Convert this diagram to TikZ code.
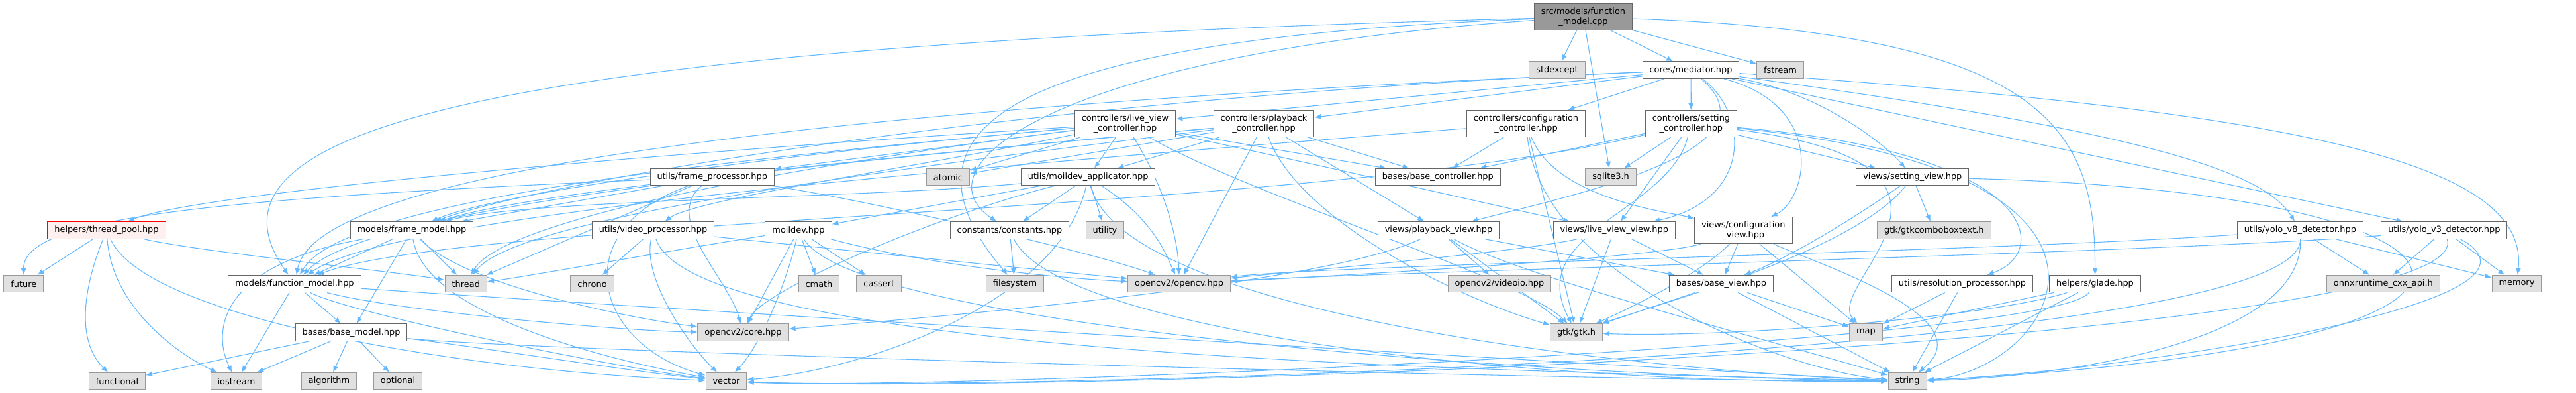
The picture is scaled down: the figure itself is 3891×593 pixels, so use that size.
\documentclass[tikz,border=0pt]{standalone}
\usepackage{fontspec}
\newfontfamily\dvs{DejaVu Sans}
\usetikzlibrary{arrows.meta}
\definecolor{edgeblue}{HTML}{63B8FF}
\definecolor{boxgray}{HTML}{666666}
\definecolor{sysgray}{HTML}{999999}
\definecolor{sysfill}{HTML}{E0E0E0}
\definecolor{badfill}{HTML}{FFF0F0}
\pgfdeclarelayer{edges}
\pgfsetlayers{edges,main}
\begin{document}
\begin{tikzpicture}[x=1pt,y=-1pt,
  hdr/.style={rectangle,draw=boxgray,fill=white,line width=1pt,align=center,inner xsep=10.5pt,inner ysep=0pt,minimum height=25.5pt,font={\dvs\fontsize{12.9}{14.8}\selectfont}},
  sys/.style={hdr,draw=sysgray,fill=sysfill},
  src/.style={hdr,fill=sysgray,minimum height=40pt},
  bad/.style={hdr,draw=red,fill=badfill},
  two/.style={minimum height=40pt},
  arr/.style={-{Latex[length=10pt,width=8pt]},draw=edgeblue,line width=1.1pt}
]
\useasboundingbox (0,0) rectangle (3891,593);
\node[src] (root) at (2391.5,25.5) {src/models/function\\\_model.cpp};
\node[sys] (stdexcept) at (2352,105.7) {stdexcept};
\node[hdr] (mediator) at (2554,105.7) {cores/mediator.hpp};
\node[sys] (fstream) at (2689,105.7) {fstream};
\node[hdr,two] (liveviewctrl) at (1699.5,186.7) {controllers/live\_view\\\_controller.hpp};
\node[hdr,two] (playbackctrl) at (1909,186.7) {controllers/playback\\\_controller.hpp};
\node[hdr,two] (configctrl) at (2305,186.7) {controllers/configuration\\\_controller.hpp};
\node[hdr,two] (settingctrl) at (2554.4,186.7) {controllers/setting\\\_controller.hpp};
\node[sys] (atomic) at (1432,267.2) {atomic};
\node[hdr] (frameproc) at (1075.7,267.2) {utils/frame\_processor.hpp};
\node[hdr] (moilapp) at (1643.7,267.2) {utils/moildev\_applicator.hpp};
\node[hdr] (basectrl) at (2171.8,267.2) {bases/base\_controller.hpp};
\node[sys] (sqlite) at (2433,267.2) {sqlite3.h};
\node[hdr] (settingview) at (2888.8,267.2) {views/setting\_view.hpp};
\node[bad] (threadpool) at (161,347.5) {helpers/thread\_pool.hpp};
\node[hdr] (framemodel) at (622,347.5) {models/frame\_model.hpp};
\node[hdr] (videoproc) at (986.5,347.5) {utils/video\_processor.hpp};
\node[hdr] (moildev) at (1206,347.5) {moildev.hpp};
\node[hdr] (constants) at (1525,347.5) {constants/constants.hpp};
\node[sys] (utility) at (1669,347.5) {utility};
\node[hdr] (playbackview) at (2173,347.5) {views/playback\_view.hpp};
\node[hdr] (liveviewview) at (2438.3,347.5) {views/live\_view\_view.hpp};
\node[hdr,two] (configview) at (2633.3,347.8) {views/configuration\\\_view.hpp};
\node[sys] (combobox) at (2921.3,347.5) {gtk/gtkcomboboxtext.h};
\node[hdr] (yolov8) at (3474.3,347.5) {utils/yolo\_v8\_detector.hpp};
\node[hdr] (yolov3) at (3691.8,347.5) {utils/yolo\_v3\_detector.hpp};
\node[sys] (future) at (35.8,428.2) {future};
\node[hdr] (funcmodel) at (445,428.2) {models/function\_model.hpp};
\node[sys] (thread) at (703.8,428.2) {thread};
\node[sys] (chrono) at (894.5,428.2) {chrono};
\node[sys] (cmath) at (1237,428.2) {cmath};
\node[sys] (cassert) at (1327.8,428.2) {cassert};
\node[sys] (filesystem) at (1533,428.2) {filesystem};
\node[sys] (opencv) at (1781,428.2) {opencv2/opencv.hpp};
\node[sys] (videoio) at (2265,428.2) {opencv2/videoio.hpp};
\node[hdr] (baseview) at (2600,428.2) {bases/base\_view.hpp};
\node[hdr] (resproc) at (2964,428.2) {utils/resolution\_processor.hpp};
\node[hdr] (glade) at (3164.5,428.2) {helpers/glade.hpp};
\node[sys] (onnx) at (3599.8,428.2) {onnxruntime\_cxx\_api.h};
\node[sys] (memory) at (3801.4,428.2) {memory};
\node[hdr] (basemodel) at (530.5,501.7) {bases/base\_model.hpp};
\node[sys] (core) at (1122.5,501.7) {opencv2/core.hpp};
\node[sys] (gtk) at (2381,501.7) {gtk/gtk.h};
\node[sys] (map) at (2818.4,501.7) {map};
\node[sys] (functional) at (177,575.2) {functional};
\node[sys] (iostream) at (357,575.2) {iostream};
\node[sys] (algorithm) at (497,575.2) {algorithm};
\node[sys] (optional) at (601,575.2) {optional};
\node[sys] (vector) at (1097,575.2) {vector};
\node[sys] (string) at (2881,575.2) {string};
\begin{pgfonlayer}{edges}
\draw[arr] (root) -- (stdexcept);
\draw[arr] (root) -- (mediator);
\draw[arr] (root) -- (fstream);
\draw[arr] (root) -- (sqlite);
\draw[arr] (root) .. controls (3100,50) and (3165,200) .. (glade);
\draw[arr] (root) .. controls (700,70) and (285,200) .. (funcmodel);
\draw[arr] (root) .. controls (1500,60) and (1340,200) .. (filesystem);
\draw[arr] (root) .. controls (1600,80) and (1380,250) .. (constants);
\draw[arr] (mediator) -- (liveviewctrl);
\draw[arr] (mediator) -- (playbackctrl);
\draw[arr] (mediator) -- (configctrl);
\draw[arr] (mediator) -- (settingctrl);
\draw[arr] (mediator) .. controls (2750,140) and (2850,220) .. (settingview);
\draw[arr] (mediator) .. controls (2760,160) and (2730,300) .. (configview);
\draw[arr] (mediator) .. controls (2640,170) and (2650,300) .. (liveviewview);
\draw[arr] (mediator) .. controls (2700,230) and (2350,300) .. (playbackview);
\draw[arr] (mediator) .. controls (3250,200) and (3420,260) .. (yolov8);
\draw[arr] (mediator) -- (yolov3);
\draw[arr] (mediator) .. controls (3500,170) and (3820,250) .. (memory);
\draw[arr] (mediator) .. controls (1300,160) and (480,250) .. (funcmodel);
\draw[arr] (mediator) .. controls (1500,150) and (800,280) .. (framemodel);
\draw[arr] (liveviewctrl) -- (atomic);
\draw[arr] (liveviewctrl) -- (moilapp);
\draw[arr] (liveviewctrl) .. controls (1770,300) and (1780,380) .. (opencv);
\draw[arr] (liveviewctrl) .. controls (1900,300) and (2300,420) .. (gtk);
\draw[arr] (liveviewctrl) -- (basectrl);
\draw[arr] (liveviewctrl) .. controls (2000,250) and (2300,320) .. (liveviewview);
\draw[arr] (liveviewctrl) .. controls (1100,240) and (520,300) .. (funcmodel);
\draw[arr] (liveviewctrl) .. controls (1200,230) and (750,290) .. (framemodel);
\draw[arr] (liveviewctrl) .. controls (1000,230) and (300,290) .. (threadpool);
\draw[arr] (liveviewctrl) .. controls (1200,250) and (760,330) .. (thread);
\draw[arr] (liveviewctrl) -- (frameproc);
\draw[arr] (liveviewctrl) .. controls (1400,250) and (1050,300) .. (videoproc);
\draw[arr] (playbackctrl) -- (atomic);
\draw[arr] (playbackctrl) -- (moilapp);
\draw[arr] (playbackctrl) -- (opencv);
\draw[arr] (playbackctrl) .. controls (1960,330) and (2200,450) .. (gtk);
\draw[arr] (playbackctrl) -- (basectrl);
\draw[arr] (playbackctrl) -- (playbackview);
\draw[arr] (playbackctrl) .. controls (1200,250) and (560,310) .. (funcmodel);
\draw[arr] (playbackctrl) .. controls (1300,240) and (800,290) .. (framemodel);
\draw[arr] (playbackctrl) .. controls (1300,260) and (780,330) .. (thread);
\draw[arr] (configctrl) -- (basectrl);
\draw[arr] (configctrl) -- (gtk);
\draw[arr] (configctrl) .. controls (2350,300) and (2520,320) .. (configview);
\draw[arr] (configctrl) .. controls (1500,250) and (600,320) .. (funcmodel);
\draw[arr] (configctrl) .. controls (2330,420) and (2700,560) .. (string);
\draw[arr] (settingctrl) -- (basectrl);
\draw[arr] (settingctrl) -- (sqlite);
\draw[arr] (settingctrl) -- (settingview);
\draw[arr] (settingctrl) .. controls (3080,230) and (3100,380) .. (resproc);
\draw[arr] (settingctrl) .. controls (2520,320) and (2300,350) .. (gtk);
\draw[arr] (settingctrl) -- (liveviewview);
\draw[arr] (settingctrl) .. controls (3050,250) and (2750,430) .. (map);
\draw[arr] (settingctrl) .. controls (3300,260) and (3100,560) .. (string);
\draw[arr] (settingctrl) .. controls (2000,320) and (700,330) .. (funcmodel);
\draw[arr] (frameproc) .. controls (300,300) and (35,330) .. (future);
\draw[arr] (frameproc) -- (framemodel);
\draw[arr] (frameproc) -- (thread);
\draw[arr] (frameproc) .. controls (1000,330) and (1100,420) .. (core);
\draw[arr] (frameproc) .. controls (850,350) and (900,520) .. (vector);
\draw[arr] (frameproc) .. controls (1300,300) and (1650,380) .. (opencv);
\draw[arr] (moilapp) -- (constants);
\draw[arr] (moilapp) -- (utility);
\draw[arr] (moilapp) .. controls (1740,330) and (1760,380) .. (opencv);
\draw[arr] (moilapp) -- (moildev);
\draw[arr] (moilapp) .. controls (1300,300) and (800,300) .. (framemodel);
\draw[arr] (moilapp) .. controls (1700,480) and (2500,560) .. (string);
\draw[arr] (moilapp) .. controls (1600,460) and (1300,560) .. (vector);
\draw[arr] (moilapp) .. controls (1400,330) and (1150,440) .. (core);
\draw[arr] (constants) -- (filesystem);
\draw[arr] (constants) .. controls (1600,500) and (2300,580) .. (string);
\draw[arr] (videoproc) -- (chrono);
\draw[arr] (videoproc) .. controls (970,420) and (1040,520) .. (vector);
\draw[arr] (videoproc) .. controls (1050,540) and (2300,560) .. (string);
\draw[arr] (videoproc) .. controls (1300,380) and (1600,410) .. (opencv);
\draw[arr] (moildev) .. controls (1000,380) and (780,420) .. (thread);
\draw[arr] (moildev) -- (cmath);
\draw[arr] (moildev) -- (cassert);
\draw[arr] (moildev) -- (core);
\draw[arr] (moildev) .. controls (1190,420) and (1150,520) .. (vector);
\draw[arr] (moildev) .. controls (1300,500) and (2400,570) .. (string);
\draw[arr] (moildev) .. controls (1400,400) and (1600,420) .. (opencv);
\draw[arr] (framemodel) -- (funcmodel);
\draw[arr] (framemodel) -- (basemodel);
\draw[arr] (framemodel) .. controls (330,400) and (320,500) .. (iostream);
\draw[arr] (framemodel) .. controls (640,470) and (900,540) .. (vector);
\draw[arr] (framemodel) -- (thread);
\draw[arr] (framemodel) .. controls (700,430) and (950,480) .. (core);
\draw[arr] (funcmodel) -- (basemodel);
\draw[arr] (funcmodel) -- (iostream);
\draw[arr] (funcmodel) .. controls (600,470) and (950,500) .. (core);
\draw[arr] (funcmodel) .. controls (520,470) and (900,550) .. (vector);
\draw[arr] (funcmodel) .. controls (900,460) and (2400,550) .. (string);
\draw[arr] (basemodel) -- (functional);
\draw[arr] (basemodel) -- (iostream);
\draw[arr] (basemodel) -- (algorithm);
\draw[arr] (basemodel) -- (optional);
\draw[arr] (basemodel) .. controls (700,520) and (950,560) .. (vector);
\draw[arr] (basemodel) .. controls (800,530) and (2400,575) .. (string);
\draw[arr] (threadpool) -- (future);
\draw[arr] (threadpool) .. controls (120,450) and (120,520) .. (functional);
\draw[arr] (threadpool) .. controls (170,470) and (280,540) .. (iostream);
\draw[arr] (threadpool) .. controls (300,380) and (600,410) .. (thread);
\draw[arr] (threadpool) .. controls (220,480) and (700,560) .. (vector);
\draw[arr] (playbackview) -- (baseview);
\draw[arr] (playbackview) -- (gtk);
\draw[arr] (playbackview) -- (videoio);
\draw[arr] (playbackview) .. controls (2000,430) and (1400,480) .. (core);
\draw[arr] (playbackview) .. controls (2300,420) and (2700,520) .. (string);
\draw[arr] (liveviewview) -- (baseview);
\draw[arr] (liveviewview) -- (gtk);
\draw[arr] (liveviewview) .. controls (2300,380) and (1950,410) .. (opencv);
\draw[arr] (configview) -- (baseview);
\draw[arr] (configview) .. controls (2560,420) and (2450,470) .. (gtk);
\draw[arr] (configview) -- (map);
\draw[arr] (configview) .. controls (2750,400) and (3000,480) .. (string);
\draw[arr] (configview) .. controls (2500,390) and (1950,420) .. (opencv);
\draw[arr] (settingview) .. controls (2800,330) and (2700,390) .. (baseview);
\draw[arr] (settingview) .. controls (2800,380) and (2500,460) .. (gtk);
\draw[arr] (settingview) -- (combobox);
\draw[arr] (settingview) .. controls (3800,290) and (3950,520) .. (string);
\draw[arr] (baseview) -- (gtk);
\draw[arr] (baseview) -- (map);
\draw[arr] (baseview) -- (string);
\draw[arr] (resproc) -- (map);
\draw[arr] (resproc) -- (string);
\draw[arr] (glade) .. controls (3000,480) and (2600,510) .. (gtk);
\draw[arr] (glade) -- (map);
\draw[arr] (glade) -- (string);
\draw[arr] (glade) .. controls (3100,520) and (1400,590) .. (vector);
\draw[arr] (yolov8) -- (onnx);
\draw[arr] (yolov8) -- (memory);
\draw[arr] (yolov8) .. controls (3000,380) and (2000,400) .. (opencv);
\draw[arr] (yolov8) .. controls (3480,540) and (1500,590) .. (vector);
\draw[arr] (yolov8) .. controls (3480,520) and (3100,570) .. (string);
\draw[arr] (yolov3) -- (onnx);
\draw[arr] (yolov3) -- (memory);
\draw[arr] (yolov3) .. controls (3300,380) and (2100,410) .. (opencv);
\draw[arr] (yolov3) .. controls (3750,520) and (1600,595) .. (vector);
\draw[arr] (yolov3) .. controls (3900,460) and (3200,560) .. (string);
\end{pgfonlayer}
\end{tikzpicture}
\end{document}
